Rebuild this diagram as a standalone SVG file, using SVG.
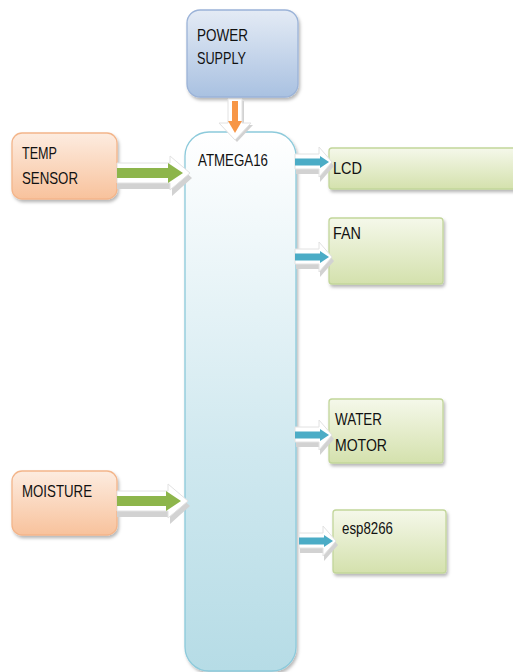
<svg xmlns="http://www.w3.org/2000/svg" width="513" height="672" viewBox="0 0 513 672">
<defs>
<linearGradient id="gBlue" x1="0" y1="0" x2="0" y2="1"><stop offset="0" stop-color="#e4ebf5"/><stop offset="1" stop-color="#a9c1e1"/></linearGradient>
<linearGradient id="gOrange" x1="0" y1="0" x2="0" y2="1"><stop offset="0" stop-color="#fdece0"/><stop offset="1" stop-color="#f8c29c"/></linearGradient>
<linearGradient id="gGreen" x1="0" y1="0" x2="0" y2="1"><stop offset="0" stop-color="#f5f8ea"/><stop offset="1" stop-color="#d4e1ad"/></linearGradient>
<linearGradient id="gCyan" x1="0" y1="0" x2="0" y2="1"><stop offset="0" stop-color="#ffffff"/><stop offset="0.6" stop-color="#cfe8ef"/><stop offset="1" stop-color="#b6dce6"/></linearGradient>
<filter id="sh" x="-10%" y="-10%" width="130%" height="130%"><feDropShadow dx="1.5" dy="2.5" stdDeviation="1.5" flood-color="#000" flood-opacity="0.28"/></filter>
<style>
.t{font-family:"Liberation Sans",Arial,sans-serif;font-size:17px;fill:#111111}
.bx{filter:url(#sh);stroke-width:1.3}
.pw{fill:url(#gBlue);stroke:#9bb3d8}
.in{fill:url(#gOrange);stroke:#f3b58a}
.out{fill:url(#gGreen);stroke:#c2d69a}
.mcu{fill:url(#gCyan);stroke:#8ccadb}
.as{fill:#d2d2d2}
.aw{fill:#ffffff;stroke:#e2e2e2;stroke-width:1}
.cg{fill:#8db54b}
.cb{fill:#4bacc6}
.co{fill:#f79646}
</style>
</defs>

<g id="power_supply">
<rect class="bx pw" x="187" y="10" width="111" height="87" rx="13"/>
<text class="t" x="197" y="41" textLength="51" lengthAdjust="spacingAndGlyphs">POWER</text>
<text class="t" x="197" y="64" textLength="49" lengthAdjust="spacingAndGlyphs">SUPPLY</text>
</g>

<g id="atmega16">
<rect class="bx mcu" x="185" y="132" width="111" height="539" rx="24"/>
<text class="t" x="198" y="166" textLength="70" lengthAdjust="spacingAndGlyphs">ATMEGA16</text>
</g>

<g id="temp_sensor">
<rect class="bx in" x="12" y="133" width="105" height="66" rx="10"/>
<text class="t" x="22" y="159" textLength="35" lengthAdjust="spacingAndGlyphs">TEMP</text>
<text class="t" x="22" y="184" textLength="56" lengthAdjust="spacingAndGlyphs">SENSOR</text>
</g>

<g id="moisture">
<rect class="bx in" x="12" y="471" width="105" height="64" rx="10"/>
<text class="t" x="22" y="497" textLength="70" lengthAdjust="spacingAndGlyphs">MOISTURE</text>
</g>

<g id="lcd">
<rect class="bx out" x="329" y="148" width="200" height="41" rx="3"/>
<text class="t" x="333" y="174" textLength="29" lengthAdjust="spacingAndGlyphs">LCD</text>
</g>

<g id="fan">
<rect class="bx out" x="329" y="218" width="114" height="66" rx="3"/>
<text class="t" x="333" y="239" textLength="28" lengthAdjust="spacingAndGlyphs">FAN</text>
</g>

<g id="water_motor">
<rect class="bx out" x="329" y="399" width="114" height="64" rx="3"/>
<text class="t" x="335" y="425" textLength="47" lengthAdjust="spacingAndGlyphs">WATER</text>
<text class="t" x="335" y="451" textLength="52" lengthAdjust="spacingAndGlyphs">MOTOR</text>
</g>

<g id="esp8266">
<rect class="bx out" x="333" y="510" width="113" height="63" rx="3"/>
<text class="t" x="342" y="534" textLength="51" lengthAdjust="spacingAndGlyphs">esp8266</text>
</g>

<g id="connectors">
<g>
<polygon class="as" points="230,101 244,101 244,125 253,125 237,142 221,125 230,125"/>
<polygon class="aw" points="228,99 242,99 242,123 251,123 235,140 219,123 228,123"/>
<rect class="co" x="232" y="101" width="6" height="22"/>
<polygon class="co" points="228,121 242,121 235,133"/>
</g>
<g>
<polygon class="as" points="117,167 172,167 172,160 192,178 172,196 172,189 117,189"/>
<polygon class="aw" points="117,163 170,163 170,156 190,173 170,190 170,183 117,183"/>
<rect class="cg" x="117" y="168" width="54" height="10"/>
<polygon class="cg" points="168,163 168,183 183,173"/>
</g>
<g>
<polygon class="as" points="117,495 170,495 170,488 190,506 170,524 170,517 117,517"/>
<polygon class="aw" points="117,491 168,491 168,484 188,501 168,518 168,511 117,511"/>
<rect class="cg" x="117" y="496" width="52" height="10"/>
<polygon class="cg" points="166,491 166,511 181,501"/>
</g>
<g>
<polygon class="as" points="296,158 320,158 320,150 334,166 320,182 320,174 296,174"/>
<polygon class="aw" points="295,154 319,154 319,147 332,162 319,177 319,169 295,169"/>
<rect class="cb" x="295" y="158.5" width="28" height="7"/>
<polygon class="cb" points="320,156 320,168 329,162"/>
</g>
<g>
<polygon class="as" points="296,253 320,253 320,245 334,261 320,277 320,269 296,269"/>
<polygon class="aw" points="295,249 319,249 319,242 332,257 319,272 319,264 295,264"/>
<rect class="cb" x="295" y="253.5" width="28" height="7"/>
<polygon class="cb" points="320,251 320,263 329,257"/>
</g>
<g>
<polygon class="as" points="296,431 320,431 320,423 334,439 320,455 320,447 296,447"/>
<polygon class="aw" points="295,427 319,427 319,420 332,435 319,450 319,442 295,442"/>
<rect class="cb" x="295" y="431.5" width="28" height="7"/>
<polygon class="cb" points="320,429 320,441 329,435"/>
</g>
<g>
<polygon class="as" points="300,537 324,537 324,529 338,545 324,561 324,553 300,553"/>
<polygon class="aw" points="299,533 323,533 323,526 336,541 323,556 323,548 299,548"/>
<rect class="cb" x="299" y="537.5" width="28" height="7"/>
<polygon class="cb" points="324,535 324,547 333,541"/>
</g>
</g>
</svg>
